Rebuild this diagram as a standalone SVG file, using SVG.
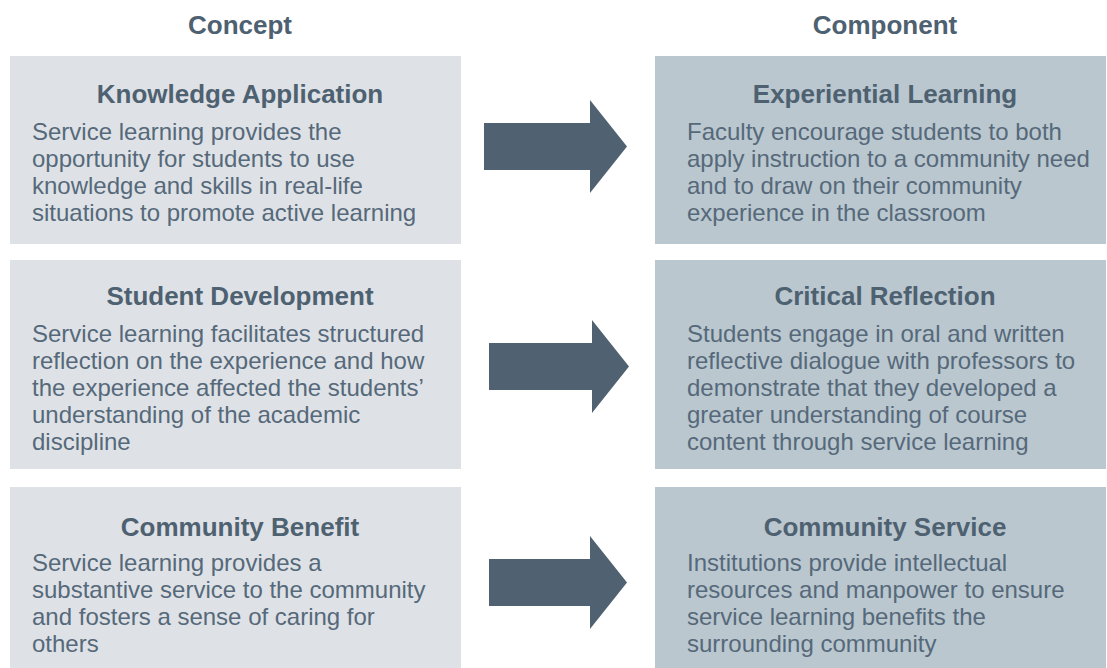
<svg xmlns="http://www.w3.org/2000/svg" width="1107" height="668" viewBox="0 0 1107 668">
  <style>
    text { font-family: "Liberation Sans", Arial, Helvetica, sans-serif; }
    .hdr { font-size: 26px; font-weight: bold; fill: #4e6171; text-anchor: middle; }
    .ttl { font-size: 26px; font-weight: bold; fill: #4e6171; text-anchor: middle; }
    .body { font-size: 24px; fill: #56697a; }
    .concept { fill: #dee2e6; }
    .component { fill: #bac7cf; }
    .arrow { fill: #506271; }
  </style>
  <rect width="1107" height="668" fill="#ffffff"/>

  <!-- column headers -->
  <g id="headers">
    <text class="hdr" x="240" y="34">Concept</text>
    <text class="hdr" x="885" y="34">Component</text>
  </g>

  <!-- row 1 -->
  <g id="knowledge-application">
    <rect class="concept" x="10" y="56" width="451" height="188"/>
    <text class="ttl" x="240" y="103">Knowledge Application</text>
    <text class="body" x="32" y="140">Service learning provides the</text>
    <text class="body" x="32" y="167">opportunity for students to use</text>
    <text class="body" x="32" y="194">knowledge and skills in real-life</text>
    <text class="body" x="32" y="221">situations to promote active learning</text>
  </g>
  <g id="experiential-learning">
    <rect class="component" x="655" y="56" width="451" height="188"/>
    <text class="ttl" x="885" y="103">Experiential Learning</text>
    <text class="body" x="687" y="140">Faculty encourage students to both</text>
    <text class="body" x="687" y="167">apply instruction to a community need</text>
    <text class="body" x="687" y="194">and to draw on their community</text>
    <text class="body" x="687" y="221">experience in the classroom</text>
  </g>

  <!-- row 2 -->
  <g id="student-development">
    <rect class="concept" x="10" y="260" width="451" height="209"/>
    <text class="ttl" x="240" y="305">Student Development</text>
    <text class="body" x="32" y="342">Service learning facilitates structured</text>
    <text class="body" x="32" y="369">reflection on the experience and how</text>
    <text class="body" x="32" y="396">the experience affected the students’</text>
    <text class="body" x="32" y="423">understanding of the academic</text>
    <text class="body" x="32" y="450">discipline</text>
  </g>
  <g id="critical-reflection">
    <rect class="component" x="655" y="260" width="451" height="209"/>
    <text class="ttl" x="885" y="305">Critical Reflection</text>
    <text class="body" x="687" y="342">Students engage in oral and written</text>
    <text class="body" x="687" y="369">reflective dialogue with professors to</text>
    <text class="body" x="687" y="396">demonstrate that they developed a</text>
    <text class="body" x="687" y="423">greater understanding of course</text>
    <text class="body" x="687" y="450">content through service learning</text>
  </g>

  <!-- row 3 -->
  <g id="community-benefit">
    <rect class="concept" x="10" y="487" width="451" height="181"/>
    <text class="ttl" x="240" y="536">Community Benefit</text>
    <text class="body" x="32" y="571">Service learning provides a</text>
    <text class="body" x="32" y="598">substantive service to the community</text>
    <text class="body" x="32" y="625">and fosters a sense of caring for</text>
    <text class="body" x="32" y="652">others</text>
  </g>
  <g id="community-service">
    <rect class="component" x="655" y="487" width="451" height="181"/>
    <text class="ttl" x="885" y="536">Community Service</text>
    <text class="body" x="687" y="571">Institutions provide intellectual</text>
    <text class="body" x="687" y="598">resources and manpower to ensure</text>
    <text class="body" x="687" y="625">service learning benefits the</text>
    <text class="body" x="687" y="652">surrounding community</text>
  </g>

  <!-- block arrows linking each concept to its component -->
  <g id="connectors">
    <path class="arrow" d="M484,123 H590 V100 L627,146.5 L590,193 V170 H484 Z"/>
    <path class="arrow" d="M489,343 H592 V320 L629,366.5 L592,413 V390 H489 Z"/>
    <path class="arrow" d="M489,559 H590 V536 L627,582.5 L590,629 V606 H489 Z"/>
  </g>
</svg>
